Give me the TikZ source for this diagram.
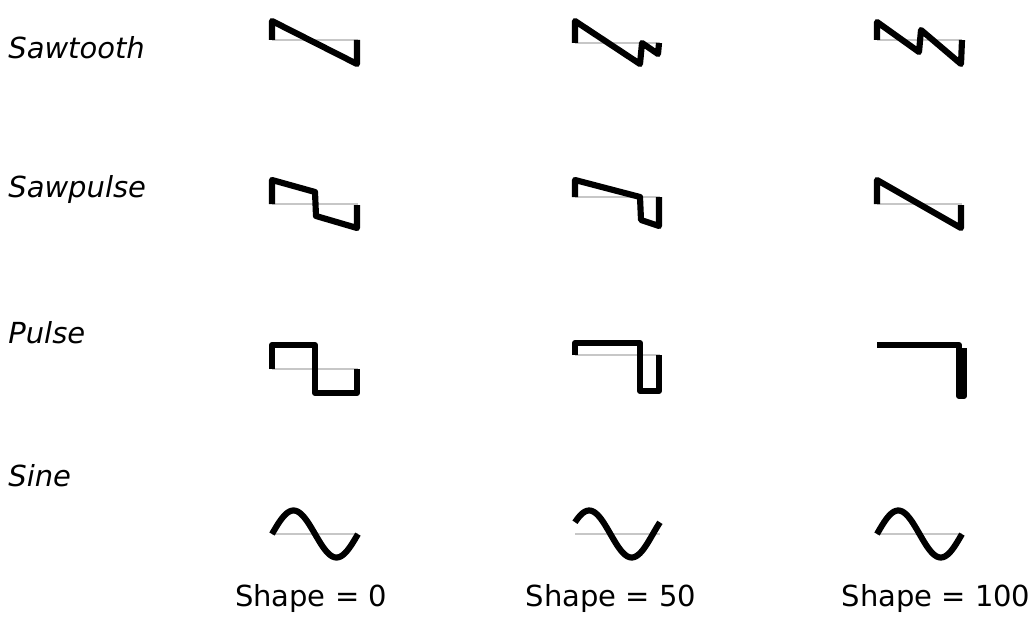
\documentclass[tikz,border=0pt]{standalone}
\usepackage{fontspec}
\setmainfont{DejaVu Sans}
\begin{document}
\begin{tikzpicture}[
  x=0.02cm, y=-0.02cm,
  wave/.style={line width=3.5pt, line join=round, black},
  zeroline/.style={line width=0.6pt, black!22},
  rowlabel/.style={anchor=west, inner sep=0pt, font=\fontsize{16.5}{20}\selectfont\itshape},
  collabel/.style={inner sep=0pt, font=\fontsize{16.5}{20}\selectfont},
]
\useasboundingbox (0,0) rectangle (1035,635);

% Row labels
\node[rowlabel] (lsaw) at (8,48) {Sawtooth};
\node[rowlabel] (lsawp) at (8,190) {Sawpulse};
\node[rowlabel] (lpulse) at (8,333) {Pulse};
\node[rowlabel] (lsine) at (8,476) {Sine};

% Column labels
\node[collabel] (s0) at (311,598) {Shape = 0};
\node[collabel] (s50) at (611,598) {Shape = 50};
\node[collabel] (s100) at (936,598) {Shape = 100};

% Zero lines
\draw[zeroline] (272,40) -- (358,40);
\draw[zeroline] (575,43) -- (660,43);
\draw[zeroline] (877,40) -- (962,40);
\draw[zeroline] (272,204) -- (358,204);
\draw[zeroline] (575,197) -- (660,197);
\draw[zeroline] (877,204) -- (962,204);
\draw[zeroline] (272,369) -- (358,369);
\draw[zeroline] (575,355) -- (660,355);
\draw[zeroline] (272,534) -- (358,534);
\draw[zeroline] (575,534) -- (660,534);
\draw[zeroline] (877,534) -- (962,534);

% Sawtooth
\draw[wave] (272,40) -- (272,21) -- (357,64) -- (357,40);
\draw[wave] (575,43) -- (575,21) -- (640,64) -- (642,43) -- (658,54) -- (659,43);
\draw[wave] (877,40) -- (877,22) -- (919,52) -- (921,30) -- (961,64) -- (962,40);

% Sawpulse
\draw[wave] (272,204) -- (272,180) -- (315,192) -- (316,216) -- (357,228) -- (357,205);
\draw[wave] (575,197) -- (575,180) -- (640,197) -- (641,220) -- (659,226) -- (659,197);
\draw[wave] (877,204) -- (877,180) -- (961,228) -- (961,205);

% Pulse
\draw[wave] (272,369) -- (272,345) -- (315,345) -- (315,393) -- (357,393) -- (357,369);
\draw[wave] (575,355) -- (575,343) -- (640,343) -- (640,391) -- (659,391) -- (659,355);
\draw[wave] (877,345) -- (959,345) -- (959,396) -- (964,396) -- (964,348);

% Sine
\draw[wave] plot[domain=0:1, samples=60] ({272+86*\x}, {534-23.5*sin(360*\x)});
\draw[wave] plot[domain=0:1, samples=60] ({575+85*\x}, {534-23.5*sin(360*\x+30)});
\draw[wave] plot[domain=0:1, samples=60] ({877+85*\x}, {534-23.5*sin(360*\x)});
\end{tikzpicture}
\end{document}
